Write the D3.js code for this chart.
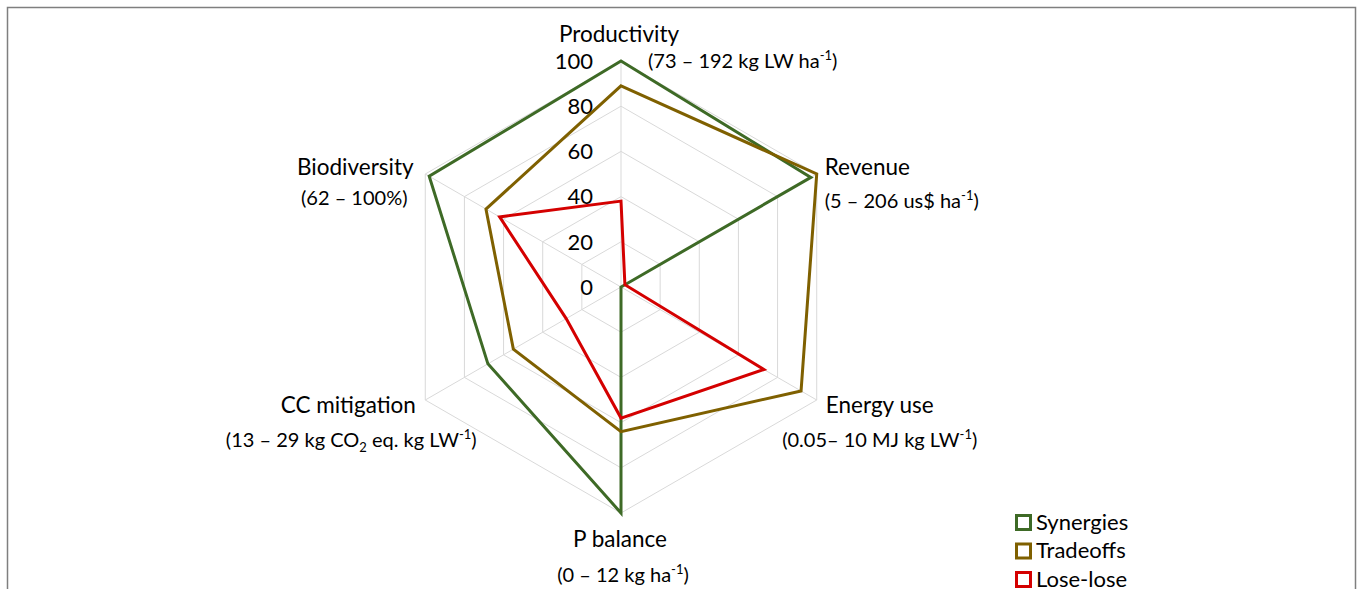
<!DOCTYPE html>
<html>
<head>
<meta charset="utf-8">
<script src="https://cdn.jsdelivr.net/npm/d3@7"></script>
<style>
  body { margin: 0; background: #fff; }
  svg { display: block; font-family: Lato, "Open Sans", sans-serif; }
  .grid { fill: none; stroke: #d9d9d9; stroke-width: 1; }
  .tick-label { font-size: 22px; fill: #000; }
  .axis-label { font-size: 22.5px; fill: #000; }
  .axis-unit { font-size: 20px; fill: #000; }
  .series { fill: none; stroke-width: 3; stroke-linejoin: miter; }
  .legend-text { font-size: 22px; fill: #000; }
</style>
</head>
<body>
<div id="chart"></div>
<script>
// axis names, in clockwise order from the top
const axes = ['Productivity', 'Revenue', 'Energy use', 'P balance', 'CC mitigation', 'Biodiversity'];
const ticks = [0, 20, 40, 60, 80, 100];

// series values (relative score, 0-100)
const synergies = [100, 97, 0, 100, 68, 98];
const tradeoffs = [89, 100, 92, 64, 55, 69];
const loseLose = [38, 2, 73, 58, 28, 62];

const seriesNames = ['Synergies', 'Tradeoffs', 'Lose-lose'];
const seriesColors = ['#3e6a26', '#7f6000', '#d40000'];

const width = 1357;
const height = 589;
const center = { x: 621, y: 287 };
const radius = 226;

const svg = d3.select('#chart')
  .append('svg')
  .attr('width', width)
  .attr('height', height);

// frame around the figure
svg.append('rect')
  .attr('x', 7.5)
  .attr('y', 7.5)
  .attr('width', 1348)
  .attr('height', 620)
  .attr('fill', 'none')
  .attr('stroke', '#7f7f7f')
  .attr('stroke-width', 1.5);

const r = d3.scaleLinear().domain([0, 100]).range([0, radius]);
const angle = d3.scalePoint().domain(axes).range([0, 2 * Math.PI * (axes.length - 1) / axes.length]);

const point = (axis, value) => {
  const a = angle(axis);
  return [center.x + r(value) * Math.sin(a), center.y - r(value) * Math.cos(a)];
};

const g = svg.append('g');

// hexagon rings
g.selectAll('.ring')
  .data(ticks.filter(t => t > 0))
  .join('polygon')
  .attr('class', 'grid ring')
  .attr('points', t => axes.map(a => point(a, t).join(',')).join(' '));

// spokes
g.selectAll('.spoke')
  .data(axes)
  .join('line')
  .attr('class', 'grid spoke')
  .attr('x1', center.x)
  .attr('y1', center.y)
  .attr('x2', a => point(a, 100)[0])
  .attr('y2', a => point(a, 100)[1]);

// tick labels along the top axis
g.selectAll('.tick-label')
  .data(ticks)
  .join('text')
  .attr('class', 'tick-label')
  .attr('x', center.x - 28)
  .attr('y', t => center.y - r(t))
  .attr('dy', '0.35em')
  .attr('text-anchor', 'end')
  .text(t => t);

// series polygons
const allSeries = [synergies, tradeoffs, loseLose];
const line = d3.line().curve(d3.curveLinearClosed);
g.selectAll('.series')
  .data(allSeries)
  .join('path')
  .attr('class', 'series')
  .attr('stroke', (d, i) => seriesColors[i])
  .attr('d', d => line(d.map((v, i) => point(axes[i], v))));

// axis labels: title line and unit line, placed from the axis end point
const labelLayout = [
  { axis: 'Productivity', title: [-2, -19, 'middle'], sub: [27, 7, 'start'],
    parts: [['(73 – 192 kg LW ha'], ['-1', 'sup'], [')']] },
  { axis: 'Revenue', title: [8, 1, 'start'], sub: [8, 34, 'start'],
    parts: [['(5 – 206 us$ ha'], ['-1', 'sup'], [')']] },
  { axis: 'Energy use', title: [63, 13, 'middle'], sub: [63, 47, 'middle'],
    parts: [['(0.05– 10 MJ kg LW'], ['-1', 'sup'], [')']] },
  { axis: 'P balance', title: [-1, 34, 'middle'], sub: [2, 69, 'middle'],
    parts: [['(0 – 12 kg ha'], ['-1', 'sup'], [')']] },
  { axis: 'CC mitigation', title: [-77, 13, 'middle'], sub: [-74, 47, 'middle'],
    parts: [['(13 – 29 kg CO'], ['2', 'sub'], [' eq. kg LW'], ['-1', 'sup'], [')']] },
  { axis: 'Biodiversity', title: [-70, 1, 'middle'], sub: [-71, 31, 'middle'],
    parts: [['(62 – 100%)']] },
];

const shiftOf = { sup: -8, sub: 5 };

labelLayout.forEach(l => {
  const [px, py] = point(l.axis, 100);
  svg.append('text')
    .attr('class', 'axis-label')
    .attr('x', px + l.title[0])
    .attr('y', py + l.title[1])
    .attr('text-anchor', l.title[2])
    .text(l.axis);

  const sub = svg.append('text')
    .attr('class', 'axis-unit')
    .attr('x', px + l.sub[0])
    .attr('y', py + l.sub[1])
    .attr('text-anchor', l.sub[2]);
  let shift = 0;
  l.parts.forEach(([txt, kind]) => {
    const target = kind ? shiftOf[kind] : 0;
    const ts = sub.append('tspan').attr('dy', target - shift).text(txt);
    if (kind) ts.attr('font-size', '13px');
    shift = target;
  });
});

// legend
const legend = svg.append('g').attr('transform', 'translate(1016, 522)');
const rows = legend.selectAll('g')
  .data(seriesNames)
  .join('g')
  .attr('transform', (d, i) => `translate(0, ${i * 28.5})`);

rows.append('rect')
  .attr('x', 0.5)
  .attr('y', -6.5)
  .attr('width', 14)
  .attr('height', 14)
  .attr('fill', '#fff')
  .attr('stroke', (d, i) => seriesColors[i])
  .attr('stroke-width', 3);

rows.append('text')
  .attr('class', 'legend-text')
  .attr('x', 20)
  .attr('y', 0)
  .attr('dy', '0.35em')
  .text(d => d);
</script>
</body>
</html>
